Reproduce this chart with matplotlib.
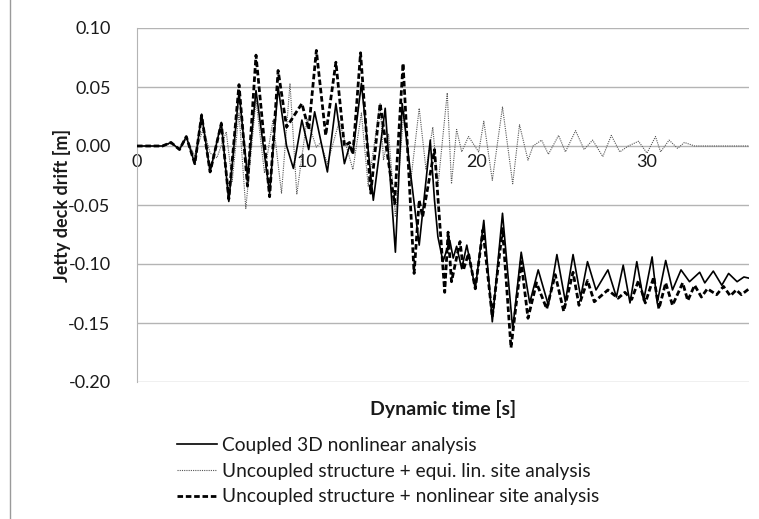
import matplotlib
matplotlib.use('Agg')
import matplotlib.pyplot as plt
from matplotlib.lines import Line2D

plt.rcParams['font.family'] = ['Lato', 'DejaVu Sans']

# --- data (peaks / troughs) ---
t_coupled = [0, 1.5, 2.0, 2.5, 2.9, 3.4, 3.8, 4.3, 4.96, 5.4, 6.0, 6.5, 7.0, 7.8,
             8.3, 8.8, 9.2, 9.7, 10.1, 10.45, 11.2, 11.7, 12.2, 12.5, 12.7, 13.2,
             13.9, 14.6, 15.2, 15.6, 16.6, 17.25, 17.5, 17.7, 18.0, 18.4, 18.6,
             18.8, 19.1, 19.4, 19.9, 20.4, 20.9, 21.5, 22.1, 22.6, 23.1, 23.6,
             24.2, 24.7, 25.2, 25.65, 26.1, 26.5, 27.0, 27.7, 28.2, 28.6, 29.0,
             29.4, 29.8, 30.3, 30.6, 31.1, 31.5, 32.0, 32.5, 33.1, 33.4, 33.9,
             34.4, 34.8, 35.3, 35.7, 36.0]
v_coupled = [0, 0, 0.003, -0.003, 0.008, -0.015, 0.027, -0.022, 0.020, -0.047,
             0.046, -0.026, 0.047, -0.040, 0.050, 0.0, -0.019, 0.022, -0.003,
             0.029, -0.022, 0.036, -0.015, 0.0, -0.006, 0.053, -0.046, 0.032,
             -0.090, 0.036, -0.084, 0.005, -0.046, -0.077, -0.098, -0.080,
             -0.095, -0.085, -0.104, -0.084, -0.121, -0.063, -0.149, -0.057,
             -0.155, -0.090, -0.133, -0.105, -0.135, -0.092, -0.132, -0.092,
             -0.128, -0.098, -0.122, -0.105, -0.128, -0.101, -0.133, -0.098,
             -0.131, -0.094, -0.133, -0.097, -0.122, -0.105, -0.115, -0.107,
             -0.116, -0.106, -0.118, -0.108, -0.115, -0.111, -0.112]

t_equilin = [0, 1.5, 2.0, 2.5, 2.9, 3.4, 3.9, 4.3, 4.7, 5.25, 5.6, 6.0, 6.4, 7.0,
             7.5, 8.0, 8.5, 9.0, 9.4, 10.0, 10.55, 10.8, 11.2, 11.9, 12.7, 13.2,
             13.6, 14.3, 14.5, 14.8, 15.2, 15.7, 16.1, 16.6, 17.0, 17.4, 17.7,
             18.25, 18.5, 18.8, 19.1, 19.5, 20.1, 20.4, 20.9, 21.5, 22.1, 22.5,
             23.0, 23.3, 23.8, 24.2, 24.8, 25.2, 25.8, 26.3, 26.8, 27.4, 27.9,
             28.4, 28.9, 29.5, 30.0, 30.5, 30.8, 31.3, 31.8, 32.2, 32.8, 36.0]
v_equilin = [0, 0, 0.002, -0.002, 0.006, -0.008, 0.015, -0.006, -0.010, 0.012,
             -0.030, 0.028, -0.053, 0.039, -0.023, 0.022, -0.040, 0.053, -0.041,
             0.023, -0.001, 0.003, -0.015, 0.021, -0.020, 0.028, -0.034, 0.036,
             -0.012, 0.010, -0.060, 0.030, -0.030, 0.032, -0.020, 0.016, -0.034,
             0.045, -0.032, 0.014, -0.005, 0.008, -0.005, 0.021, -0.029, 0.033,
             -0.032, 0.018, -0.012, 0.0, 0.005, -0.007, 0.009, -0.005, 0.013,
             -0.003, 0.005, -0.009, 0.009, -0.005, 0.0, 0.004, -0.006, 0.008,
             -0.005, 0.005, -0.002, 0.003, 0.0, 0.0]

t_nonlin = [0, 1.5, 2.0, 2.5, 2.9, 3.4, 3.8, 4.3, 4.96, 5.4, 6.0, 6.5, 7.0, 7.8,
            8.3, 8.8, 9.7, 10.1, 10.55, 11.1, 11.7, 12.2, 12.5, 12.7, 13.15,
            13.75, 14.3, 15.15, 15.65, 16.3, 16.6, 16.8, 17.5, 18.1, 18.3, 18.5,
            19.0, 19.2, 19.5, 19.9, 20.35, 20.9, 21.5, 22.0, 22.6, 23.0, 23.5,
            24.1, 24.6, 25.1, 25.65, 26.0, 26.5, 26.9, 27.7, 28.3, 28.7, 29.1,
            29.5, 29.9, 30.4, 30.7, 31.1, 31.5, 32.1, 32.4, 32.8, 33.2, 33.55,
            34.1, 34.5, 34.9, 35.25, 35.55, 36.0]
v_nonlin = [0, 0, 0.003, -0.003, 0.008, -0.015, 0.026, -0.022, 0.019, -0.045,
            0.052, -0.034, 0.077, -0.043, 0.064, 0.016, 0.036, 0.014, 0.081,
            0.009, 0.071, 0.0, 0.003, -0.007, 0.079, -0.040, 0.036, -0.049,
            0.070, -0.108, -0.046, -0.060, -0.003, -0.124, -0.073, -0.115,
            -0.081, -0.105, -0.091, -0.121, -0.071, -0.145, -0.070, -0.171,
            -0.098, -0.146, -0.116, -0.138, -0.109, -0.140, -0.107, -0.135,
            -0.114, -0.132, -0.122, -0.129, -0.124, -0.130, -0.114, -0.133,
            -0.111, -0.138, -0.116, -0.135, -0.116, -0.131, -0.118, -0.128,
            -0.121, -0.126, -0.119, -0.127, -0.122, -0.126, -0.121]

x_ticks = [0, 10, 20, 30]
y_ticks = [0.10, 0.05, 0.00, -0.05, -0.10, -0.15, -0.20]

labels = ['Coupled 3D nonlinear analysis',
          'Uncoupled structure + equi. lin. site analysis',
          'Uncoupled structure + nonlinear site analysis']

txt = '#1a1a1a'
grid = '#b4b4b4'

fig = plt.figure(figsize=(7.59, 5.19), dpi=100)
ax = fig.add_axes([137 / 759, 1 - 382 / 519, 612 / 759, 354 / 519])

for y in y_ticks:
    ax.axhline(y, color=grid, lw=1.0, zorder=1)

ax.plot(t_equilin, v_equilin, color='#555555', lw=0.8, ls=(0, (1, 1)), zorder=3)
ax.plot(t_coupled, v_coupled, color='black', lw=1.2, zorder=4)
ax.plot(t_nonlin, v_nonlin, color='black', lw=2.0, ls=(0, (2, 1)), zorder=5)

ax.set_xlim(0, 36)
ax.set_ylim(-0.20, 0.10)
ax.set_xticks([])
ax.set_yticks(y_ticks)
ax.set_yticklabels([f'{y:.2f}' for y in y_ticks])
ax.tick_params(axis='y', length=0, pad=19, labelsize=13, labelcolor=txt)
for s in ['top', 'right', 'bottom']:
    ax.spines[s].set_visible(False)
ax.spines['left'].set_color(grid)

for t in x_ticks:
    ax.annotate(str(t), (t, 0), xytext=(0, -6), textcoords='offset points',
                ha='center', va='top', fontsize=13, color=txt, zorder=2)

fig.text(443 / 759, 1 - 409 / 519, 'Dynamic time [s]', ha='center', va='center',
         fontsize=14, fontweight='bold', color=txt)
fig.text(62 / 759, 1 - 205 / 519, 'Jetty deck drift [m]', ha='center', va='center',
         rotation=90, fontsize=13, fontweight='bold', color=txt)

handles = [Line2D([], [], color='black', lw=1.2),
           Line2D([], [], color='#555555', lw=0.8, ls=(0, (1, 1))),
           Line2D([], [], color='black', lw=2.0, ls=(0, (2, 1)))]
fig.legend(handles, labels, loc='upper left', bbox_to_anchor=(177 / 759, 1 - 437 / 519),
           frameon=False, fontsize=13.8, handlelength=2.1, handletextpad=0.26,
           labelspacing=0.45, borderpad=0, borderaxespad=0, labelcolor=txt)

# left border of the chart area
fig.add_artist(Line2D([10 / 759, 10 / 759], [0, 1], color='#9a9a9a', lw=1.0))

fig.savefig('out.png', dpi=100)
